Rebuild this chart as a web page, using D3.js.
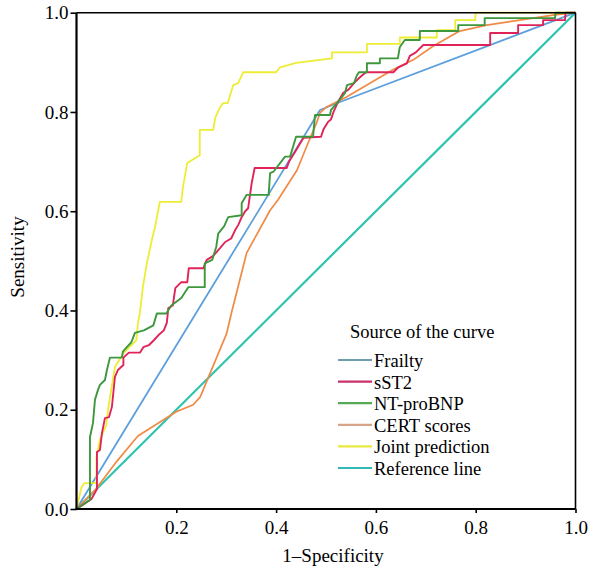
<!DOCTYPE html>
<html>
<head>
<meta charset="utf-8">
<script src="https://cdn.jsdelivr.net/npm/d3@7"></script>
<style>
  html, body { margin: 0; padding: 0; background: #fff; }
  svg { display: block; }
  text { font-family: "Liberation Serif", "Times New Roman", serif; fill: #000; }
</style>
</head>
<body>
<svg id="chart" width="590" height="572"></svg>
<script>
// ---- data (1 - specificity, sensitivity) ----
const seriesNames = ["Frailty", "sST2", "NT-proBNP", "CERT scores", "Joint prediction", "Reference line"];
const seriesColors = ["#5d9fdc", "#e0245a", "#3d973d", "#f08a45", "#eded35", "#2ec4ae"];
const legendColors = ["#6f9fae", "#c9306c", "#55aa55", "#d6a488", "#e8e840", "#33b8b8"];

const frailty = [[0,0],[0.488,0.804],[0.528,0.82],[1,1]];

const sst2 = [[0,0],[0.03,0.02],[0.041,0.04],[0.041,0.115],[0.047,0.119],[0.051,0.153],[0.057,0.183],[0.065,0.185],[0.071,0.206],[0.077,0.266],[0.083,0.28],[0.094,0.29],[0.094,0.305],[0.105,0.315],[0.127,0.315],[0.134,0.326],[0.145,0.33],[0.155,0.34],[0.164,0.35],[0.175,0.36],[0.181,0.375],[0.184,0.405],[0.193,0.41],[0.198,0.445],[0.21,0.457],[0.222,0.457],[0.225,0.485],[0.254,0.485],[0.261,0.502],[0.274,0.51],[0.288,0.526],[0.298,0.538],[0.31,0.545],[0.318,0.562],[0.324,0.572],[0.331,0.588],[0.338,0.6],[0.344,0.606],[0.351,0.656],[0.357,0.687],[0.421,0.687],[0.426,0.70],[0.44,0.723],[0.447,0.735],[0.455,0.748],[0.49,0.75],[0.495,0.765],[0.504,0.78],[0.51,0.785],[0.515,0.8],[0.524,0.82],[0.534,0.838],[0.545,0.845],[0.558,0.86],[0.568,0.87],[0.58,0.88],[0.635,0.88],[0.645,0.89],[0.662,0.898],[0.668,0.913],[0.68,0.92],[0.695,0.935],[0.829,0.935],[0.829,0.959],[0.885,0.959],[0.885,0.975],[0.935,0.975],[0.935,0.985],[0.979,0.985],[0.98,1],[1,1]];

const ntprobnp = [[0,0],[0.027,0.018],[0.027,0.145],[0.033,0.173],[0.037,0.22],[0.043,0.24],[0.047,0.25],[0.057,0.26],[0.061,0.28],[0.067,0.305],[0.091,0.305],[0.093,0.317],[0.1,0.325],[0.11,0.336],[0.117,0.355],[0.135,0.36],[0.154,0.37],[0.161,0.394],[0.18,0.394],[0.19,0.41],[0.21,0.425],[0.224,0.447],[0.257,0.447],[0.257,0.495],[0.272,0.502],[0.28,0.528],[0.284,0.555],[0.296,0.57],[0.304,0.588],[0.331,0.592],[0.331,0.616],[0.341,0.633],[0.385,0.633],[0.388,0.677],[0.395,0.68],[0.418,0.71],[0.428,0.71],[0.434,0.73],[0.44,0.75],[0.474,0.75],[0.478,0.794],[0.508,0.794],[0.51,0.804],[0.524,0.82],[0.538,0.838],[0.542,0.854],[0.556,0.858],[0.562,0.874],[0.566,0.88],[0.582,0.88],[0.582,0.898],[0.608,0.898],[0.608,0.908],[0.644,0.908],[0.648,0.931],[0.658,0.945],[0.688,0.945],[0.688,0.963],[0.765,0.963],[0.765,0.975],[0.818,0.975],[0.818,0.989],[0.959,0.989],[0.96,1],[1,1]];

const cert = [[0,0],[0.037,0.038],[0.08,0.095],[0.123,0.147],[0.2,0.196],[0.234,0.21],[0.248,0.226],[0.301,0.354],[0.311,0.397],[0.341,0.516],[0.388,0.602],[0.404,0.623],[0.442,0.683],[0.461,0.73],[0.481,0.778],[0.488,0.798],[0.501,0.81],[0.541,0.83],[0.634,0.885],[0.675,0.905],[0.715,0.933],[0.768,0.963],[0.822,0.975],[0.955,0.995],[1,1]];

const joint = [[0,0],[0.01,0.044],[0.016,0.052],[0.04,0.052],[0.04,0.105],[0.047,0.14],[0.06,0.17],[0.063,0.2],[0.077,0.286],[0.094,0.314],[0.12,0.34],[0.123,0.374],[0.127,0.395],[0.133,0.447],[0.141,0.495],[0.151,0.542],[0.157,0.566],[0.167,0.619],[0.21,0.619],[0.213,0.647],[0.222,0.697],[0.247,0.713],[0.247,0.764],[0.274,0.764],[0.278,0.788],[0.288,0.81],[0.294,0.818],[0.303,0.818],[0.314,0.854],[0.324,0.858],[0.334,0.88],[0.40,0.88],[0.408,0.89],[0.44,0.899],[0.512,0.908],[0.512,0.92],[0.582,0.92],[0.582,0.937],[0.648,0.937],[0.648,0.95],[0.722,0.95],[0.722,0.965],[0.759,0.965],[0.759,0.985],[0.799,0.985],[0.8,1],[1,1]];

const reference = [[0,0],[1,1]];

const xTicks = [0.2, 0.4, 0.6, 0.8, 1.0];
const yTicks = [0.0, 0.2, 0.4, 0.6, 0.8, 1.0];
const xTitle = "1–Specificity";
const yTitle = "Sensitivity";
const legendTitle = "Source of the curve";

// ---- drawing ----
const svg = d3.select("#chart");
const x = d3.scaleLinear().domain([0, 1]).range([76.5, 575.5]);
const y = d3.scaleLinear().domain([0, 1]).range([509, 12.7]);

const line = d3.line().x(d => x(d[0])).y(d => y(d[1]));

// draw order: reference, frailty, cert, sst2, ntprobnp, joint
const seriesData = [frailty, sst2, ntprobnp, cert, joint, reference];
const drawOrder = [5, 0, 3, 4, 1, 2];
const widths = [1.8, 1.9, 1.9, 1.7, 1.8, 2.2];

const plot = svg.append("g");
drawOrder.forEach(i => {
  plot.append("path")
    .datum(seriesData[i])
    .attr("d", line)
    .attr("fill", "none")
    .attr("stroke", seriesColors[i])
    .attr("stroke-width", widths[i])
    .attr("stroke-linejoin", "round");
});

// frame
svg.append("line").attr("x1", x(0)).attr("x2", x(1)).attr("y1", y(1)).attr("y2", y(1))
  .attr("stroke", "#000").attr("stroke-width", 1.6);
svg.append("line").attr("x1", x(1)).attr("x2", x(1)).attr("y1", y(1)).attr("y2", y(0))
  .attr("stroke", "#000").attr("stroke-width", 1.6);

const yAxis = svg.append("g").attr("transform", `translate(${x(0)},0)`)
  .call(d3.axisLeft(y).tickValues(yTicks).tickFormat(d3.format(".1f")).tickSize(6).tickSizeOuter(0).tickPadding(2));
const xAxis = svg.append("g").attr("transform", `translate(0,${y(0)})`)
  .call(d3.axisBottom(x).tickValues(xTicks).tickFormat(d3.format(".1f")).tickSize(4).tickSizeOuter(0).tickPadding(8));

[xAxis, yAxis].forEach(g => {
  g.select(".domain").attr("stroke", "#000").attr("stroke-width", 2.2);
  g.selectAll(".tick line").attr("stroke", "#000").attr("stroke-width", 1.6);
  g.selectAll(".tick text").attr("font-family", "Liberation Serif, serif").attr("font-size", 19).attr("fill", "#000");
});
// extend the y domain to the corner
yAxis.select(".domain").attr("d", `M0,${y(1)}V${y(0) + 1}`);
xAxis.select(".domain").attr("d", `M${x(0) - 1},0H${x(1)}`);

// axis titles
svg.append("text").attr("x", 333).attr("y", 562).attr("text-anchor", "middle")
  .attr("font-size", 19).text(xTitle);
svg.append("text").attr("transform", "translate(24,257) rotate(-90)").attr("text-anchor", "middle")
  .attr("font-size", 19).text(yTitle);

// legend
const legend = svg.append("g");
legend.append("text").attr("x", 350).attr("y", 338).attr("font-size", 18.5).text(legendTitle);
seriesNames.forEach((name, i) => {
  const by = 367 + i * 21.6;
  legend.append("line").attr("x1", 338).attr("x2", 372).attr("y1", by - 7).attr("y2", by - 7)
    .attr("stroke", legendColors[i]).attr("stroke-width", 2.2);
  legend.append("text").attr("x", 374).attr("y", by).attr("font-size", 18.5).text(name);
});
</script>
</body>
</html>
